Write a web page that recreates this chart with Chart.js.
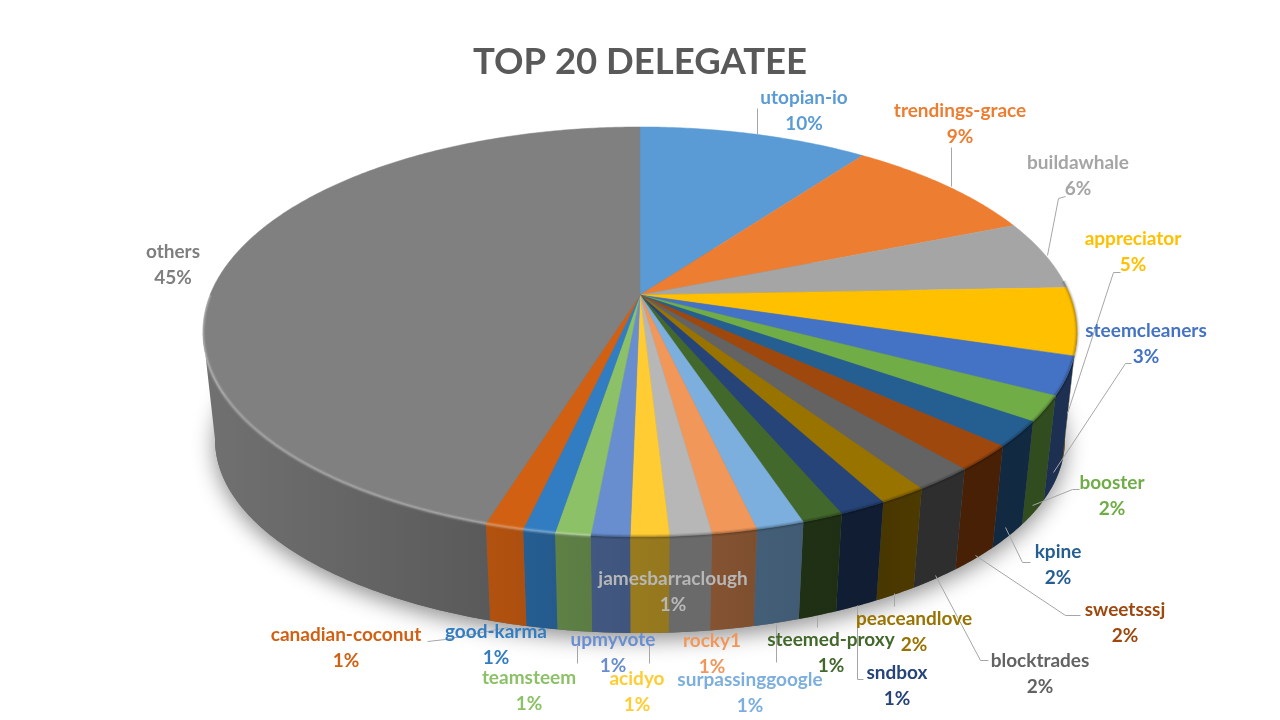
<!DOCTYPE html>
<html>
<head>
<meta charset="utf-8">
<title>TOP 20 DELEGATEE</title>
<script src="https://cdn.jsdelivr.net/npm/chart.js@4"></script>
<style>
  html, body { margin: 0; padding: 0; background: #fff; }
  canvas { display: block; }
</style>
</head>
<body>
<canvas id="chart" width="1280" height="720"></canvas>
<script>
// 데이터 (그림에서 읽은 값, %)
const names = ['utopian-io', 'trendings-grace', 'buildawhale', 'appreciator', 'steemcleaners', 'booster', 'kpine', 'sweetsssj', 'blocktrades', 'peaceandlove', 'sndbox', 'steemed-proxy', 'surpassinggoogle', 'rocky1', 'jamesbarraclough', 'acidyo', 'upmyvote', 'teamsteem', 'good-karma', 'canadian-coconut', 'others'];
const values = [10.1, 8.8, 5.5, 5.3, 3.0, 2.0, 2.0, 2.0, 1.9, 1.5, 1.5, 1.3, 1.5, 1.4, 1.3, 1.2, 1.2, 1.1, 1.0, 1.2, 45.2];
const percents = ['10%', '9%', '6%', '5%', '3%', '2%', '2%', '2%', '2%', '2%', '1%', '1%', '1%', '1%', '1%', '1%', '1%', '1%', '1%', '1%', '45%'];

const colors = ['#5B9BD5', '#ED7D31', '#A5A5A5', '#FFC000', '#4472C4', '#70AD47', '#255E91', '#9E480E', '#636363', '#997300', '#264478', '#43682B', '#7CAFDD', '#F1975A', '#B7B7B7', '#FFCD33', '#698ED0', '#8CC168', '#327DC2', '#D26012', '#808080'];

// 라벨 중심 좌표 (이름 줄 기준)
const labelPos = [[804, 98], [960, 111], [1078, 163], [1133, 239], [1146, 331], [1112, 483], [1058, 552], [1125, 610], [1040, 661], [914, 619], [897, 673], [831, 640], [750, 680], [712, 641], [673, 579], [637, 679], [613, 640], [529, 678], [496, 632], [346, 635], [173, 252]];

// 지시선
const leaders = [
  [[757, 134], [757, 108]],
  [[951, 186], [951, 147]],
  [[1047, 255], [1058, 198], [1065, 196]],
  [[1067, 413], [1113, 272], [1120, 272]],
  [[1053, 472], [1125, 363], [1131, 363]],
  [[1032, 505], [1072, 489], [1079, 489]],
  [[1005, 527], [1022, 562], [1030, 562]],
  [[975, 555], [1065, 615], [1080, 615]],
  [[935, 575], [980, 660], [988, 660]],
  [[894, 593], [894, 606]],
  [[857, 605], [857, 679], [863, 679]],
  [[817, 617], [817, 627]],
  [[776, 624], [776, 662]],
  [[649, 644], [649, 663]],
  [[577, 645], [577, 663]],
  [[427, 641], [445, 639], [507, 627]]
];

// 원근 투영: 윗면과 아랫면 타원
const topFace = { cx: 640, cy: 295, a: 430, b: 198.3, k: 0.18 };
const bottomFace = { cx: 640, cy: 405, a: 418, b: 187, k: 0.18 };

// 옆면이 보이는 각도 범위 (타원의 좌우 끝)
const wallFrom = Math.acos(-topFace.k);
const wallTo = Math.PI * 2 - wallFrom;

function project(face, th) {
  const u = Math.sin(th), v = -Math.cos(th);
  const w = 1 - face.k * v;
  return [face.cx + face.a * u / w, face.cy + face.b * v / w];
}

// 옆면 밝기 (조각별 시작/끝)
const wallShade = [[0.44, 0.44], [0.44, 0.44], [0.44, 0.44], [0.42, 0.42], [0.42, 0.42], [0.44, 0.44], [0.45, 0.45], [0.45, 0.45], [0.46, 0.46], [0.5, 0.48], [0.42, 0.42], [0.45, 0.46], [0.52, 0.54], [0.52, 0.55], [0.58, 0.58], [0.58, 0.6], [0.6, 0.62], [0.65, 0.67], [0.72, 0.75], [0.82, 0.85], [0.7, 0.88]];

function mix(hex, f) {
  const n = parseInt(hex.slice(1), 16);
  const c = [(n >> 16) & 255, (n >> 8) & 255, n & 255];
  return `rgb(${c.map(x => Math.round(x * f)).join(',')})`;
}

function arcPoints(face, a0, a1) {
  const pts = [];
  const n = Math.max(2, Math.ceil((a1 - a0) / 0.01));
  for (let i = 0; i <= n; i++) pts.push(project(face, a0 + (a1 - a0) * i / n));
  return pts;
}

function tracePath(ctx, pts, close) {
  ctx.beginPath();
  pts.forEach((p, i) => i ? ctx.lineTo(p[0], p[1]) : ctx.moveTo(p[0], p[1]));
  if (close) ctx.closePath();
}

// 3D 파이: Chart.js 가 계산한 각도로 직접 그림
const pie3d = {
  id: 'pie3d',
  beforeDatasetsDraw(chart) {
    const ctx = chart.ctx;
    const arcs = chart.getDatasetMeta(0).data.map((el, i) => {
      const p = el.getProps(['startAngle', 'endAngle'], true);
      return { i, a0: p.startAngle + Math.PI / 2, a1: p.endAngle + Math.PI / 2 };
    });

    // 바닥 그림자
    ctx.save();
    ctx.shadowColor = 'rgba(0,0,0,0.45)';
    ctx.shadowBlur = 22;
    ctx.shadowOffsetY = 6;
    ctx.fillStyle = '#666';
    tracePath(ctx, arcPoints(bottomFace, 0, Math.PI * 2), true);
    ctx.fill();
    ctx.restore();

    // 옆면
    arcs.filter(s => s.a1 > wallFrom && s.a0 < wallTo).forEach(s => {
      const a0 = Math.max(s.a0, wallFrom), a1 = Math.min(s.a1, wallTo);
      const pts = arcPoints(topFace, a0, a1).concat(arcPoints(bottomFace, a0, a1).reverse());
      const g = ctx.createLinearGradient(project(topFace, a0)[0], 0, project(topFace, a1)[0], 0);
      g.addColorStop(0, mix(colors[s.i], wallShade[s.i][0]));
      g.addColorStop(1, mix(colors[s.i], wallShade[s.i][1]));
      tracePath(ctx, pts, true);
      ctx.fillStyle = g;
      ctx.fill();
    });

    // 윗면
    arcs.forEach(s => {
      tracePath(ctx, [[topFace.cx, topFace.cy]].concat(arcPoints(topFace, s.a0, s.a1)), true);
      ctx.fillStyle = colors[s.i];
      ctx.strokeStyle = colors[s.i];
      ctx.lineWidth = 0.5;
      ctx.fill();
      ctx.stroke();
    });

    // 테두리 베벨: 왼쪽은 밝게, 오른쪽은 어둡게
    arcs.forEach(s => {
      const a0 = Math.max(s.a0, 1.5), a1 = Math.min(s.a1, Math.PI * 1.5);
      if (a1 <= a0) return;
      const lit = s.a0 > Math.PI * 1.02;
      const tone = lit ? '255,255,255' : '0,0,0';
      [[5, 0.08], [2.5, lit ? 0.2 : 0.14]].forEach(r => {
        tracePath(ctx, arcPoints(topFace, a0, a1), false);
        ctx.strokeStyle = `rgba(${tone},${r[1]})`;
        ctx.lineWidth = r[0];
        ctx.stroke();
      });
    });

    // 지시선
    ctx.strokeStyle = '#a6a6a6';
    ctx.lineWidth = 1;
    leaders.forEach(line => {
      tracePath(ctx, line.map(p => [p[0] + 0.5, p[1] + 0.5]), false);
      ctx.stroke();
    });

    // 라벨
    ctx.font = 'bold 19px Lato';
    ctx.textAlign = 'center';
    ctx.textBaseline = 'middle';
    names.forEach((name, i) => {
      ctx.fillStyle = i === 20 ? '#7F7F7F' : colors[i];
      ctx.fillText(name, labelPos[i][0], labelPos[i][1]);
      ctx.fillText(percents[i], labelPos[i][0], labelPos[i][1] + 26);
    });
    return false; // 기본 파이는 그리지 않음
  }
};

new Chart(document.getElementById('chart').getContext('2d'), {
  type: 'pie',
  data: {
    labels: names,
    datasets: [{ data: values, backgroundColor: colors, borderWidth: 0 }]
  },
  options: {
    responsive: false,
    animation: false,
    plugins: {
      legend: { display: false },
      tooltip: { enabled: false },
      title: {
        display: true,
        text: 'TOP 20 DELEGATEE',
        color: '#595959',
        font: { family: 'Lato', size: 36.5, weight: 'bold' },
        padding: { top: 40, bottom: 10 }
      }
    }
  },
  plugins: [pie3d]
});
</script>
</body>
</html>
